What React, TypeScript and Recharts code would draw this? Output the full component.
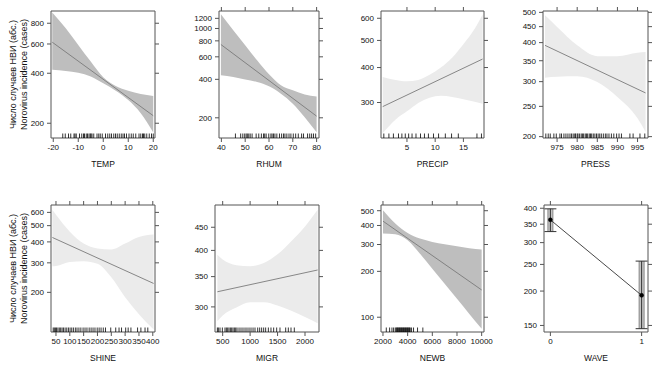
import React from 'react';
import { ComposedChart, Area, Line, Scatter, XAxis, YAxis, ErrorBar } from 'recharts';

// TEMP
const TEMP_X = [-20.4, -15, -10, -5, 0, 5, 10, 15, 20];
const TEMP_LO = [420, 413, 403, 382, 348, 314, 276, 230, 176];
const TEMP_HI = [930, 746, 592, 470, 378, 335, 314, 300, 292];
const TEMP_FIT = [615, 222];
const TEMP_RUG = [-16.2, -15.2, -13.9, -13, -11.7, -11.3, -10.8, -9.5, -8.6, -7.9, -7.5, -6.8, -6.3, -5.7, -5.2, -4.9, -4.5, -3.8, -2.5, -1.8, -1.2, -0.4, 0.9, 1.8, 2.6, 3.3, 4.2, 4.9, 5.6, 6.4, 7.2, 7.9, 8.5, 9.3, 10.3, 11.2, 12, 13, 14.3, 15, 15.7, 16.1, 16.6, 17.4, 18.4, 19.3, 20];

// RHUM
const RHUM_X = [39.8, 45, 50, 55, 60, 65, 70, 75, 80];
const RHUM_LO = [430, 417, 398, 381, 353, 309, 258, 202, 154];
const RHUM_HI = [1290, 968, 740, 564, 438, 359, 328, 305, 294];
const RHUM_FIT = [749, 206];
const RHUM_RUG = [45.9, 48.1, 49, 49.8, 50.4, 50.9, 51.5, 52.1, 52.9, 54.6, 55.7, 56.8, 57.7, 58.2, 58.8, 59.9, 60.8, 61.3, 61.9, 62.5, 63.3, 64.4, 65.3, 66.1, 66.7, 67.5, 68.4, 69.2, 70.2, 71.2, 72.3, 73.7, 74.5, 76.2, 77.1, 77.9, 78.7, 79.6];

// PRECIP
const PRECIP_X = [0.7, 3, 5, 7, 9, 11, 13, 15, 17, 18.4];
const PRECIP_LO = [233, 261, 279, 299, 312, 317, 314, 308, 302, 297];
const PRECIP_HI = [370, 361, 357, 361, 377, 400, 434, 485, 550, 619];
const PRECIP_FIT = [290, 429];
const PRECIP_RUG = [0.9, 1.8, 2.6, 3.5, 4.1, 4.7, 5.3, 5.9, 6.6, 7.4, 8.1, 8.8, 9.7, 10.6, 11.8, 12.9, 14.1, 17.4, 18.2];

// PRESS
const PRESS_X = [972, 975, 980, 985, 990, 995, 997];
const PRESS_LO = [309, 311, 312, 299, 268, 229, 207];
const PRESS_HI = [489, 449, 392, 362, 362, 371, 373];
const PRESS_FIT = [392, 276];
const PRESS_RUG = [972.2, 972.8, 973.3, 974.2, 974.8, 975.7, 976.1, 976.7, 977.2, 977.7, 978.2, 978.6, 979, 979.4, 979.6, 980, 980.2, 980.6, 981, 981.3, 981.6, 982, 982.3, 982.6, 983, 983.3, 983.6, 984, 984.4, 984.8, 985.2, 985.6, 986, 986.5, 987, 987.4, 987.9, 988.5, 989.1, 989.8, 990.4, 991, 993.1, 993.9, 995.6, 996.8];

// SHINE
const SHINE_X = [37, 50, 100, 150, 200, 250, 300, 350, 403];
const SHINE_LO = [286, 287, 303, 307, 296, 246, 187, 148, 120];
const SHINE_HI = [621, 580, 460, 391, 365, 360, 391, 428, 443];
const SHINE_FIT = [425, 226];
const SHINE_RUG = [40, 44, 48, 52, 57, 62, 67, 72, 77, 83, 89, 95, 101, 107, 113, 120, 126, 133, 140, 148, 155, 162, 170, 177, 184, 191, 199, 206, 213, 221, 229, 248, 266, 278, 287, 302, 311, 321, 345, 357, 372, 382];

// MIGR
const MIGR_X = [403, 500, 750, 1000, 1250, 1500, 1750, 2000, 2230];
const MIGR_LO = [279, 287, 299, 307, 307, 302, 294, 285, 276];
const MIGR_HI = [391, 382, 371, 369, 375, 392, 419, 452, 492];
const MIGR_FIT = [324, 362];
const MIGR_RUG = [403, 421, 451, 494, 542, 567, 591, 615, 640, 664, 688, 713, 737, 761, 798, 834, 870, 907, 943, 980, 1016, 1053, 1089, 1138, 1174, 1210, 1247, 1283, 1332, 1380, 1429, 1484, 1544, 1648, 1696, 1745, 1805];

// NEWB
const NEWB_X = [2000, 3000, 4000, 5000, 6000, 7000, 8000, 9000, 10000];
const NEWB_LO = [354, 350, 320, 261, 208, 166, 132, 105, 84];
const NEWB_HI = [504, 412, 357, 328, 312, 301, 292, 284, 278];
const NEWB_FIT = [427, 151];
const NEWB_RUG = [2269, 2539, 2727, 2862, 2997, 3078, 3131, 3185, 3239, 3293, 3347, 3401, 3455, 3509, 3563, 3616, 3670, 3724, 3778, 3832, 3886, 3940, 3994, 4047, 4101, 4155, 4209, 4317, 4478, 4802, 5233];

// WAVE
const WAVE_X = [0, 1];
const WAVE_FIT = [363, 193];
const WAVE_LO = [329, 146];
const WAVE_HI = [398, 257];

const Y_TITLE_RU = 'Число случаев НВИ (абс.)';
const Y_TITLE_EN = 'Norovirus incidence (cases)';

const DARK = '#bebebe';
const LIGHT = '#ebebeb';
const AXIS = '#555';
const FONT = '"Liberation Sans", Arial, Helvetica, sans-serif';

const LEFT_W = 48;
const RIGHT_W = 10;
const TOP_H = 8;
const BOTTOM_H = 34;

type Box = { L: number; R: number; T: number; B: number };

interface PanelProps {
  name: string;
  xs: number[];
  lo: number[];
  hi: number[];
  fit: number[];
  rug: number[];
  xTicks: number[];
  yTicks: number[];
  xDomain: [number, number];
  yDomain: [number, number];
  box: Box;
  fill: string;
  topTicks?: boolean;
}

const RugTick = (props: any) => {
  const { cx, cy } = props;
  if (cx == null || cy == null) return <g />;
  return <line x1={cx} x2={cx} y1={cy - 4.5} y2={cy} stroke="#000" strokeWidth={0.8} />;
};

const tickStyle = { fontSize: 8, fill: '#111', fontFamily: FONT };
const labelStyle = { position: 'insideBottom' as const, offset: 5, fontSize: 8.5, fill: '#111', fontFamily: FONT };
const blank = () => '';

function chartStyle(box: Box): React.CSSProperties {
  return { position: 'absolute', left: box.L - LEFT_W, top: box.T - TOP_H };
}

function Panel(p: PanelProps) {
  const { box } = p;
  const w = box.R - box.L + LEFT_W + RIGHT_W;
  const h = box.B - box.T + TOP_H + BOTTOM_H;
  const last = p.xs.length - 1;
  const rows = p.xs.map((x, i) => ({
    x,
    band: [p.lo[i], p.hi[i]],
    fit: i === 0 ? p.fit[0] : i === last ? p.fit[1] : null,
  }));
  const rug = p.rug.map((x) => ({ x, y: p.yDomain[0] }));
  return (
    <div style={chartStyle(box)}>
      <ComposedChart width={w} height={h} data={rows} margin={{ top: 0, right: 0, bottom: 0, left: 0 }}>
        <XAxis
          dataKey="x"
          type="number"
          domain={p.xDomain}
          allowDataOverflow
          ticks={p.xTicks}
          interval={0}
          height={BOTTOM_H}
          tickSize={4}
          tickMargin={2}
          stroke={AXIS}
          tick={tickStyle}
          label={{ value: p.name, ...labelStyle }}
        />
        <XAxis
          xAxisId="top"
          orientation="top"
          dataKey="x"
          type="number"
          domain={p.xDomain}
          allowDataOverflow
          ticks={p.xTicks}
          interval={0}
          height={TOP_H}
          tickSize={4}
          tickLine={p.topTicks !== false}
          stroke={AXIS}
          tickFormatter={blank}
        />
        <YAxis
          type="number"
          scale="log"
          domain={p.yDomain}
          allowDataOverflow
          ticks={p.yTicks}
          interval={0}
          width={LEFT_W}
          tickSize={4}
          tickMargin={3}
          stroke={AXIS}
          tick={tickStyle}
        />
        <YAxis
          yAxisId="right"
          orientation="right"
          type="number"
          scale="log"
          domain={p.yDomain}
          allowDataOverflow
          ticks={p.yTicks}
          interval={0}
          width={RIGHT_W}
          tickSize={4}
          stroke={AXIS}
          tickFormatter={blank}
        />
        <Area
          dataKey="band"
          type="monotone"
          stroke="none"
          fill={p.fill}
          fillOpacity={1}
          activeDot={false}
          isAnimationActive={false}
        />
        <Line
          dataKey="fit"
          connectNulls
          dot={false}
          activeDot={false}
          stroke="#7a7a7a"
          strokeWidth={0.9}
          isAnimationActive={false}
        />
        <Scatter data={rug} dataKey="y" shape={RugTick} isAnimationActive={false} />
      </ComposedChart>
    </div>
  );
}

function WavePanel({ box }: { box: Box }) {
  const w = box.R - box.L + LEFT_W + RIGHT_W;
  const h = box.B - box.T + TOP_H + BOTTOM_H;
  const xDomain: [number, number] = [-0.07, 1.07];
  const yDomain: [number, number] = [142, 411];
  const yTicks = [150, 200, 250, 300, 350, 400];
  const rows = WAVE_X.map((x, i) => ({
    x,
    fit: WAVE_FIT[i],
    err: [WAVE_FIT[i] - WAVE_LO[i], WAVE_HI[i] - WAVE_FIT[i]],
  }));
  return (
    <div style={chartStyle(box)}>
      <ComposedChart width={w} height={h} data={rows} margin={{ top: 0, right: 0, bottom: 0, left: 0 }}>
        <XAxis
          dataKey="x"
          type="number"
          domain={xDomain}
          allowDataOverflow
          ticks={WAVE_X}
          interval={0}
          height={BOTTOM_H}
          tickSize={4}
          tickMargin={2}
          stroke={AXIS}
          tick={tickStyle}
          label={{ value: 'WAVE', ...labelStyle }}
        />
        <XAxis
          xAxisId="top"
          orientation="top"
          dataKey="x"
          type="number"
          domain={xDomain}
          allowDataOverflow
          ticks={WAVE_X}
          interval={0}
          height={TOP_H}
          tickSize={4}
          stroke={AXIS}
          tickFormatter={blank}
        />
        <YAxis
          type="number"
          scale="log"
          domain={yDomain}
          allowDataOverflow
          ticks={yTicks}
          interval={0}
          width={LEFT_W}
          tickSize={4}
          tickMargin={3}
          stroke={AXIS}
          tick={tickStyle}
        />
        <YAxis
          yAxisId="right"
          orientation="right"
          type="number"
          scale="log"
          domain={yDomain}
          allowDataOverflow
          ticks={yTicks}
          interval={0}
          width={RIGHT_W}
          tickSize={4}
          stroke={AXIS}
          tickFormatter={blank}
        />
        <Line
          dataKey="fit"
          stroke="#333"
          strokeWidth={0.9}
          dot={{ r: 2, fill: '#000', stroke: '#000', strokeWidth: 0.5 }}
          activeDot={false}
          isAnimationActive={false}
        >
          <ErrorBar dataKey="err" width={0} stroke="#8a8a8a" strokeWidth={6} isAnimationActive={false} />
          <ErrorBar dataKey="err" width={0} stroke="#c4c4c4" strokeWidth={4} isAnimationActive={false} />
          <ErrorBar dataKey="err" width={6} stroke="#333" strokeWidth={1} isAnimationActive={false} />
        </Line>
      </ComposedChart>
    </div>
  );
}

const ROW1 = { T: 11, B: 138 };
const ROW2 = { T: 205, B: 332 };

export default function App() {
  return (
    <div style={{ position: 'absolute', left: 0, top: 0, width: 658, height: 366, background: '#fff', fontFamily: FONT }}>
      <Panel
        name="TEMP"
        xs={TEMP_X} lo={TEMP_LO} hi={TEMP_HI} fit={TEMP_FIT} rug={TEMP_RUG}
        xTicks={[-20, -10, 0, 10, 20]} yTicks={[200, 400, 600, 800]}
        xDomain={[-20.9, 20.7]} yDomain={[163, 948]}
        box={{ L: 51, R: 155, ...ROW1 }} fill={DARK} topTicks={false}
      />
      <Panel
        name="RHUM"
        xs={RHUM_X} lo={RHUM_LO} hi={RHUM_HI} fit={RHUM_FIT} rug={RHUM_RUG}
        xTicks={[40, 50, 60, 70, 80]} yTicks={[200, 400, 600, 800, 1000, 1200]}
        xDomain={[39, 81]} yDomain={[139, 1370]}
        box={{ L: 219, R: 319, ...ROW1 }} fill={DARK}
      />
      <Panel
        name="PRECIP"
        xs={PRECIP_X} lo={PRECIP_LO} hi={PRECIP_HI} fit={PRECIP_FIT} rug={PRECIP_RUG}
        xTicks={[5, 10, 15]} yTicks={[300, 400, 500, 600]}
        xDomain={[0.4, 18.65]} yDomain={[224, 637]}
        box={{ L: 381, R: 484, ...ROW1 }} fill={LIGHT}
      />
      <Panel
        name="PRESS"
        xs={PRESS_X} lo={PRESS_LO} hi={PRESS_HI} fit={PRESS_FIT} rug={PRESS_RUG}
        xTicks={[975, 980, 985, 990, 995]} yTicks={[200, 250, 300, 350, 400, 450, 500]}
        xDomain={[971.5, 997.6]} yDomain={[198, 505]}
        box={{ L: 543, R: 648, ...ROW1 }} fill={LIGHT}
      />
      <Panel
        name="SHINE"
        xs={SHINE_X} lo={SHINE_LO} hi={SHINE_HI} fit={SHINE_FIT} rug={SHINE_RUG}
        xTicks={[50, 100, 150, 200, 250, 300, 350, 400]} yTicks={[200, 300, 400, 500, 600]}
        xDomain={[32, 408]} yDomain={[116, 664]}
        box={{ L: 51, R: 155, ...ROW2 }} fill={LIGHT}
      />
      <Panel
        name="MIGR"
        xs={MIGR_X} lo={MIGR_LO} hi={MIGR_HI} fit={MIGR_FIT} rug={MIGR_RUG}
        xTicks={[500, 1000, 1500, 2000]} yTicks={[300, 350, 400, 450]}
        xDomain={[360, 2255]} yDomain={[264, 504]}
        box={{ L: 215, R: 319, ...ROW2 }} fill={LIGHT}
      />
      <Panel
        name="NEWB"
        xs={NEWB_X} lo={NEWB_LO} hi={NEWB_HI} fit={NEWB_FIT} rug={NEWB_RUG}
        xTicks={[2000, 4000, 6000, 8000, 10000]} yTicks={[100, 200, 300, 400, 500]}
        xDomain={[1840, 10190]} yDomain={[80, 545]}
        box={{ L: 381, R: 484, ...ROW2 }} fill={DARK}
      />
      <WavePanel box={{ L: 544, R: 648, ...ROW2 }} />
      <svg width={658} height={366} style={{ position: 'absolute', left: 0, top: 0, pointerEvents: 'none' }}>
        {[ROW1, ROW2].map((r, i) => {
          const cy = (r.T + r.B) / 2;
          return (
            <g key={i} fontSize={9} fill="#111" fontFamily={FONT} textAnchor="middle">
              <text transform={`translate(13, ${cy}) rotate(-90)`} dominantBaseline="central">{Y_TITLE_RU}</text>
              <text transform={`translate(23.5, ${cy}) rotate(-90)`} dominantBaseline="central">{Y_TITLE_EN}</text>
            </g>
          );
        })}
      </svg>
    </div>
  );
}
